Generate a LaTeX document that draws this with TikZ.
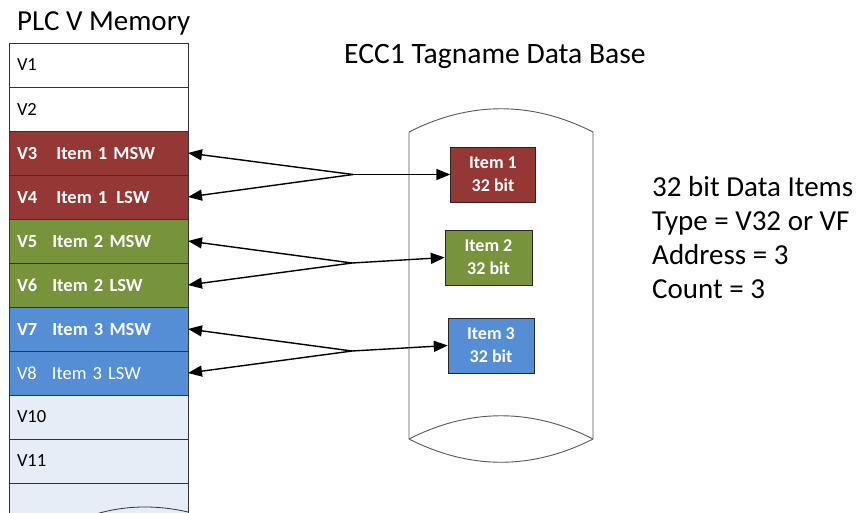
\documentclass[tikz,border=0pt]{standalone}
\usepackage{fontspec}
\setmainfont{Carlito}
\usepackage{tikz}
\usetikzlibrary{arrows.meta,positioning}
\definecolor{itemred}{HTML}{953735}
\definecolor{itemgreen}{HTML}{77933C}
\definecolor{itemblue}{HTML}{558ED5}
\definecolor{rowgray}{HTML}{E6EDF7}

\begin{document}
\begin{tikzpicture}[x=1pt,y=-1pt,
		row/.style={draw=black!80,outer sep=0pt,minimum width=179pt,minimum height=44pt,
			text width=163pt,inner xsep=8pt,align=left,font=\fontsize{18.5}{22}\selectfont},
		redrow/.style={row,fill=itemred,text=white,font=\fontsize{18.5}{22}\selectfont\bfseries},
		greenrow/.style={row,fill=itemgreen,text=white,font=\fontsize{18.5}{22}\selectfont\bfseries},
		bluerow/.style={row,fill=itemblue,text=white,font=\fontsize{18.5}{22}\selectfont\bfseries},
		grayrow/.style={row,fill=rowgray},
		itembox/.style={draw=black!85,minimum width=85pt,minimum height=55pt,align=center,
			text=white,font=\fontsize{18}{23}\selectfont\bfseries},
		title/.style={anchor=base west,inner sep=0pt,font=\fontsize{29}{34}\selectfont},
		link/.style={line width=1.4pt,-{Triangle[length=14pt,width=11pt]}}]
	\useasboundingbox (0,0) rectangle (859,512);
	\clip (0,0) rectangle (859,512);

	\node[title] (plc) at (17,30) {PLC V Memory};
	\node[title,font=\fontsize{29.6}{34}\selectfont] (ecc) at (344,63) {ECC1 Tagname Data Base};

	\node[row,anchor=north west] (v1) at (9,43) {V1};
	\node[row,below=0pt of v1] (v2) {V2};
	\node[redrow,below=0pt of v2] (v3) {V3\hspace{19pt}Item 1 MSW};
	\node[redrow,below=0pt of v3] (v4) {V4\hspace{19pt}Item 1\hspace{9pt}LSW};
	\node[greenrow,below=0pt of v4] (v5) {V5\hspace{15pt}Item 2 MSW};
	\node[greenrow,below=0pt of v5] (v6) {V6\hspace{15pt}Item 2 LSW};
	\node[bluerow,below=0pt of v6] (v7) {V7\hspace{15pt}Item 3 MSW};
	\node[bluerow,font=\fontsize{18.5}{22}\selectfont,below=0pt of v7] (v8) {V8\hspace{15pt}Item 3 LSW};
	\node[grayrow,below=0pt of v8] (v10) {V10};
	\node[grayrow,below=0pt of v10] (v11) {V11};
	\node[grayrow,below=0pt of v11] (v12) {};
	\draw[black!80,line width=0.8pt] (96,514) .. controls (126,505) and (158,505) .. (188,512);

	% data base
	\draw[black!65,line width=0.9pt] (409,439) -- (409,132) .. controls (470,101) and (532,101) .. (593,132) -- (593,439);
	\draw[black!65,line width=0.9pt] (409,439) .. controls (470,408) and (532,408) .. (593,439);
	\draw[black!65,line width=0.9pt] (409,439) .. controls (470,470) and (532,470) .. (593,439);

	\node[itembox,fill=itemred] (item1) at (493,174.5) {Item 1\\32 bit};
	\node[itembox,fill=itemgreen,minimum width=87pt] (item2) at (488.5,257.5) {Item 2\\32 bit};
	\node[itembox,fill=itemblue,minimum width=86pt] (item3) at (491,345.5) {Item 3\\32 bit};

	\coordinate (j1) at (353,174.5);
	\coordinate (j2) at (352,263);
	\coordinate (j3) at (352,351);
	\draw[link] (j1) -- (v3.east);
	\draw[link] (j1) -- (v4.east);
	\draw[link] (j1) -- (item1.west);
	\draw[link] (j2) -- (v5.east);
	\draw[link] (j2) -- (v6.east);
	\draw[link] (j2) -- (item2.west);
	\draw[link] (j3) -- (v7.east);
	\draw[link] (j3) -- (v8.east);
	\draw[link] (j3) -- (item3.west);

	\node[title] (info1) at (652,196) {32 bit Data Items};
	\node[title] (info2) at (652,230) {Type = V32 or VF};
	\node[title] (info3) at (652,264) {Address = 3};
	\node[title] (info4) at (652,298) {Count = 3};
\end{tikzpicture}
\end{document}
